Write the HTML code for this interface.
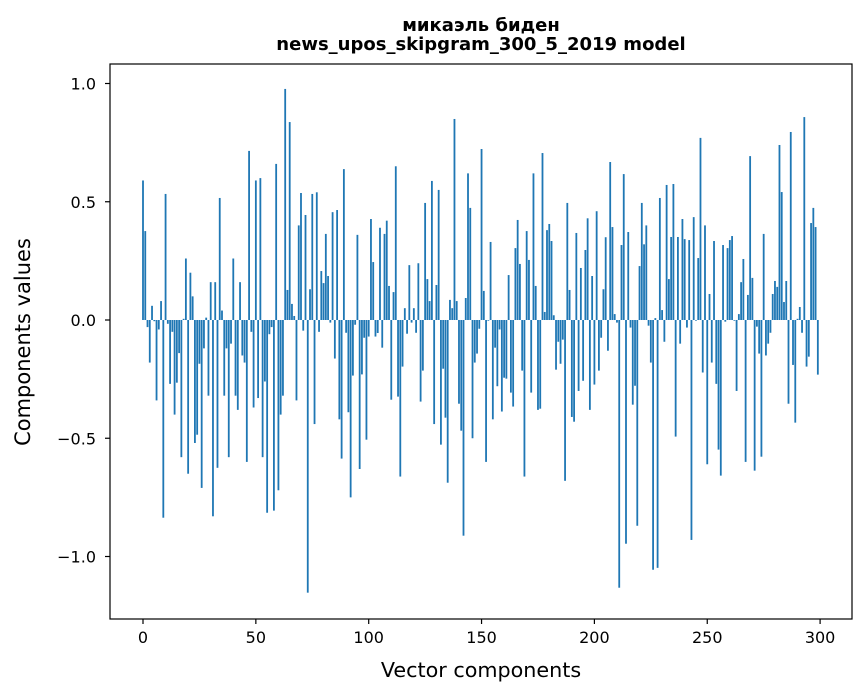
<!DOCTYPE html>
<html><head><meta charset="utf-8"><style>
body{margin:0;background:#fff;font-family:"DejaVu Sans","Liberation Sans",sans-serif;}
svg text{font-family:"DejaVu Sans","Liberation Sans",sans-serif;fill:#000;}
</style></head><body>
<svg id="chart" width="867" height="696" viewBox="0 0 867 696" xmlns="http://www.w3.org/2000/svg">
<rect width="867" height="696" fill="#fff"/>
<text x="481" y="31" font-size="18" font-weight="bold" text-anchor="middle">микаэль биден</text>
<text x="481" y="50" font-size="18" font-weight="bold" text-anchor="middle">news_upos_skipgram_300_5_2019 model</text>
<g id="bars"></g>
<g id="axes"></g>
<text x="481" y="677" font-size="20.7" text-anchor="middle">Vector components</text>
<text transform="translate(30,342) rotate(-90)" font-size="21" text-anchor="middle">Components values</text>
</svg>
<script>
const values = [
0.59,0.376,-0.03,-0.18,0.06,-0.005,-0.34,-0.04,0.08,-0.836,
0.533,-0.016,-0.27,-0.05,-0.40,-0.265,-0.14,-0.58,0.005,0.26,
-0.65,0.2,0.1,-0.52,-0.485,-0.185,-0.71,-0.12,0.01,-0.32,
0.16,-0.83,0.16,-0.625,0.516,0.04,-0.32,-0.12,-0.58,-0.1,
0.26,-0.32,-0.38,0.16,-0.15,-0.18,-0.6,0.715,-0.05,-0.37,
0.59,-0.33,0.6,-0.58,-0.26,-0.815,-0.06,-0.03,-0.806,0.66,
-0.72,-0.4,-0.32,0.977,0.127,0.837,0.068,0.017,-0.34,0.4,
0.537,-0.045,0.444,-1.153,0.13,0.533,-0.44,0.54,-0.05,0.207,
0.156,0.364,0.186,-0.011,0.456,-0.163,0.465,-0.42,-0.586,0.638,
-0.054,-0.39,-0.75,-0.235,-0.02,0.36,-0.63,-0.23,-0.075,-0.506,
-0.07,0.427,0.245,-0.07,-0.055,0.39,-0.117,0.364,0.42,0.144,
-0.337,0.118,0.65,-0.324,-0.662,-0.197,0.05,-0.058,0.232,-0.011,
0.05,-0.054,0.24,-0.345,-0.214,0.495,0.173,0.08,0.588,-0.44,
0.148,0.55,-0.527,-0.206,-0.413,-0.688,0.085,0.05,0.85,0.08,
-0.354,-0.468,-0.912,0.093,0.62,0.474,-0.5,-0.18,-0.142,-0.037,
0.723,0.123,-0.6,-0.003,0.33,-0.42,-0.117,-0.28,-0.04,-0.387,
-0.244,-0.248,0.19,-0.307,-0.366,0.304,0.423,0.237,-0.214,-0.662,
0.376,0.254,-0.307,0.62,0.144,-0.38,-0.375,0.706,0.034,0.38,
0.406,0.334,0.02,-0.21,-0.092,-0.185,-0.083,-0.68,0.495,0.127,
-0.41,-0.43,0.368,-0.3,0.22,-0.257,0.296,0.43,-0.38,0.186,
-0.273,0.46,-0.214,-0.075,0.13,0.35,-0.13,0.668,0.393,0.025,
-0.011,-1.132,0.317,0.617,-0.946,0.372,-0.032,-0.358,-0.278,-0.87,
0.228,0.495,0.32,0.4,-0.024,-0.18,-1.056,0.008,-1.048,0.516,
0.042,-0.092,0.571,0.173,0.351,0.575,-0.493,0.351,-0.1,0.427,
0.342,-0.032,0.338,-0.93,0.435,-0.003,0.262,0.77,-0.222,0.4,
-0.61,0.11,-0.18,0.334,-0.27,-0.548,-0.658,0.317,-0.007,0.304,
0.338,0.355,-0.003,-0.3,0.025,0.16,0.258,-0.6,0.106,0.693,
0.178,-0.637,-0.028,-0.142,-0.578,0.364,-0.15,-0.1,-0.054,0.11,
0.165,0.14,0.74,0.541,0.076,0.165,-0.354,0.795,-0.19,-0.434,
0.005,0.055,-0.054,0.858,-0.197,-0.155,0.41,0.474,0.393,-0.231
];
const xTicks = [0,50,100,150,200,250,300];
const yTicks = [-1.0,-0.5,0.0,0.5,1.0];
const yTickLabels = ["\u22121.0","\u22120.5","0.0","0.5","1.0"];

const NS = "http://www.w3.org/2000/svg";
const L = 110, R = 852, T = 64, B = 619;
const xScale = v => 143 + v * 2.257;
const yScale = v => 320 - v * 236.5;
const barW = 0.8 * 2.257;

const bars = document.getElementById('bars');
values.forEach((v, i) => {
  const r = document.createElementNS(NS, 'rect');
  const y0 = yScale(0), y1 = yScale(v);
  r.setAttribute('x', xScale(i) - barW / 2);
  r.setAttribute('y', Math.min(y0, y1));
  r.setAttribute('width', barW);
  r.setAttribute('height', Math.max(Math.abs(y1 - y0), 0.3));
  r.setAttribute('fill', '#1f77b4');
  
  
  bars.appendChild(r);
});

const axes = document.getElementById('axes');
const frame = document.createElementNS(NS, 'rect');
frame.setAttribute('x', L); frame.setAttribute('y', T);
frame.setAttribute('width', R - L); frame.setAttribute('height', B - T);
frame.setAttribute('fill', 'none'); frame.setAttribute('stroke', '#000'); frame.setAttribute('stroke-width', '1.2');


axes.appendChild(frame);

xTicks.forEach(t => {
  const x = xScale(t);
  const ln = document.createElementNS(NS, 'line');
  ln.setAttribute('x1', x); ln.setAttribute('x2', x);
  ln.setAttribute('y1', B); ln.setAttribute('y2', B + 5);
  ln.setAttribute('stroke', '#000'); ln.setAttribute('stroke-width', '1.2');
  
  
  axes.appendChild(ln);
  const tx = document.createElementNS(NS, 'text');
  tx.setAttribute('x', x); tx.setAttribute('y', B + 24);
  tx.setAttribute('font-size', '16'); tx.setAttribute('text-anchor', 'middle');
  tx.textContent = String(t);
  
  
  axes.appendChild(tx);
});

yTicks.forEach((t, i) => {
  const y = yScale(t);
  const ln = document.createElementNS(NS, 'line');
  ln.setAttribute('x1', L - 5); ln.setAttribute('x2', L);
  ln.setAttribute('y1', y); ln.setAttribute('y2', y);
  ln.setAttribute('stroke', '#000'); ln.setAttribute('stroke-width', '1.2');
  
  
  axes.appendChild(ln);
  const tx = document.createElementNS(NS, 'text');
  tx.setAttribute('x', L - 14); tx.setAttribute('y', y + 6);
  tx.setAttribute('font-size', '16'); tx.setAttribute('text-anchor', 'end');
  tx.textContent = yTickLabels[i];
  
  
  axes.appendChild(tx);
});
</script>
</body></html>
